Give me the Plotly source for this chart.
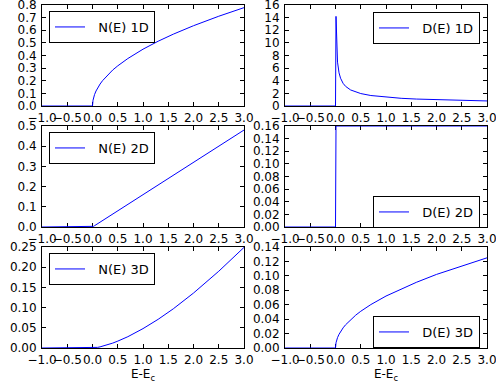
import plotly.graph_objects as go

# Energy grid (E - Ec)
energy = [-1.0, 0.0, 0.01, 0.02, 0.04, 0.07, 0.1, 0.15, 0.2, 0.3, 0.4, 0.5, 0.7, 1.0, 1.3, 1.6, 2.0, 2.5, 3.0]

n_1d = [0, 0, 0.045, 0.064, 0.090, 0.119, 0.142, 0.174, 0.201, 0.246, 0.285, 0.318, 0.376, 0.450, 0.513, 0.569, 0.636, 0.711, 0.779]
d_1d = [0, 0, 14.2, 9.83, 6.95, 5.25, 4.40, 3.59, 3.11, 2.54, 2.20, 1.97, 1.66, 1.39, 1.22, 1.10, 0.98, 0.88, 0.80]
n_2d = [0, 0, 0.0016, 0.0032, 0.0064, 0.0112, 0.016, 0.024, 0.032, 0.048, 0.064, 0.080, 0.112, 0.160, 0.208, 0.256, 0.320, 0.400, 0.480]
d_2d = [0, 0, 0.16, 0.16, 0.16, 0.16, 0.16, 0.16, 0.16, 0.16, 0.16, 0.16, 0.16, 0.16, 0.16, 0.16, 0.16, 0.16, 0.16]
n_3d = [0, 0, 0.00005, 0.00014, 0.0004, 0.0009, 0.0015, 0.0028, 0.0043, 0.0079, 0.0121, 0.017, 0.028, 0.048, 0.071, 0.097, 0.136, 0.190, 0.249]
d_3d = [0, 0, 0.0072, 0.0102, 0.0144, 0.019, 0.0228, 0.0279, 0.0322, 0.0394, 0.0455, 0.0509, 0.0602, 0.072, 0.082, 0.091, 0.102, 0.114, 0.125]

names = ["N(E) 1D", "D(E) 1D", "N(E) 2D", "D(E) 2D", "N(E) 3D", "D(E) 3D"]
series = [n_1d, d_1d, n_2d, d_2d, n_3d, d_3d]

x_ticks = [-1.0, -0.5, 0.0, 0.5, 1.0, 1.5, 2.0, 2.5, 3.0]
y_ranges = [[0, 0.8], [0, 16], [0, 0.5], [0, 0.16], [0, 0.25], [0, 0.14]]
y_dticks = [0.1, 2, 0.1, 0.02, 0.05, 0.02]
y_formats = [".1f", "d", ".1f", ".2f", ".2f", ".2f"]

W, H = 496, 387
col_px = [(42, 244), (285, 487)]
row_px = [(5, 106), (126, 227), (247, 348)]
legend_px = [(49, 11), (373, 12), (49, 132), (373, 196), (49, 253), (373, 316)]  # top-left

fig = go.Figure()
layout = dict(template="none", width=W, height=H, margin=dict(l=0, r=0, t=0, b=0, autoexpand=False),
              paper_bgcolor="white", plot_bgcolor="white",
              font=dict(family="DejaVu Sans", size=12, color="black"),
              showlegend=True)

for i in range(6):
    r, c = divmod(i, 2)
    k = i + 1
    xa = "x" if k == 1 else f"x{k}"
    ya = "y" if k == 1 else f"y{k}"
    lg = "legend" if k == 1 else f"legend{k}"
    fig.add_trace(go.Scatter(x=energy, y=series[i], mode="lines", name="\u00a0\u00a0" + names[i],
                             line=dict(color="#0000ff", width=1), xaxis=xa, yaxis=ya,
                             legend=lg, cliponaxis=False))
    x0, x1 = col_px[c]
    y0, y1 = row_px[r]
    axis_common = dict(showline=True, linecolor="black", linewidth=1, mirror="allticks",
                       ticks="inside", ticklen=4, tickcolor="black", tickwidth=1,
                       showgrid=False, zeroline=False, layer="below traces",
                       automargin=False, tickangle=0, ticklabeloverflow="allow",
                       tickfont=dict(size=12, family="DejaVu Sans"))
    layout["xaxis" if k == 1 else f"xaxis{k}"] = dict(
        domain=[x0 / W, x1 / W], range=[-1, 3], anchor=ya,
        tickmode="array", tickvals=x_ticks, tickformat=".1f", ticklabelstandoff=1, **axis_common)
    layout["yaxis" if k == 1 else f"yaxis{k}"] = dict(
        domain=[1 - y1 / H, 1 - y0 / H], range=y_ranges[i], anchor=xa,
        dtick=y_dticks[i], tick0=0, tickformat=y_formats[i], ticklabelstandoff=2, **axis_common)
    lx, ly = legend_px[i]
    layout[lg] = dict(x=lx / W, y=1 - ly / H, xanchor="left", yanchor="top",
                      bordercolor="black", borderwidth=1, bgcolor="white",
                      font=dict(size=13, family="DejaVu Sans"), itemwidth=30)

layout["xaxis5"]["title"] = dict(text="E-E<sub>c</sub>", font=dict(size=12), standoff=0)
layout["xaxis6"]["title"] = dict(text="E-E<sub>c</sub>", font=dict(size=12), standoff=0)

fig.update_layout(**layout)
fig.write_html("out.html", config={"displayModeBar": False},
               post_script="document.body.style.margin='0';document.body.style.overflow='hidden';")
